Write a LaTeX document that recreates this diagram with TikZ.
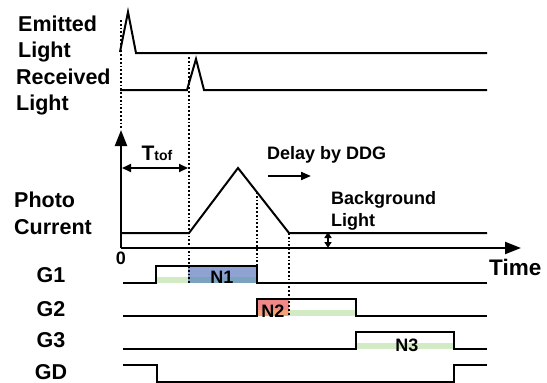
\documentclass[tikz,border=0pt]{standalone}
\usepackage{fontspec}
\setmainfont{Liberation Sans}
\usetikzlibrary{arrows.meta}
\definecolor{gfill}{HTML}{D3EBC5}
\definecolor{bfill}{HTML}{8FA3D3}
\definecolor{bgfill}{HTML}{7BA3BE}
\definecolor{rfill}{HTML}{F08888}
\definecolor{rofill}{HTML}{F4A27A}
\tikzset{
  sig/.style={line width=2pt, line join=miter},
  dots/.style={line width=1.8pt, dash pattern=on 1.8pt off 2pt},
  lbl/.style={font=\fontsize{21.5}{26}\selectfont\bfseries, align=left, inner sep=0pt},
  sml/.style={font=\fontsize{18}{22}\selectfont\bfseries, align=left, inner sep=0pt},
  axisarrow/.style={line width=2.2pt, -{Triangle[length=16pt,width=12pt]}},
  dimarrow/.style={line width=2pt, {Triangle[length=9pt,width=8pt]}-{Triangle[length=9pt,width=8pt]}},
  smallarrow/.style={line width=1.8pt, {Triangle[length=6pt,width=7pt]}-{Triangle[length=6pt,width=7pt]}},
}
\begin{document}
\begin{tikzpicture}[x=1pt,y=-1pt]
\useasboundingbox (0,0) rectangle (547,383);
% colour fills
\fill[gfill] (157,277) rectangle (188,283);
\fill[bfill] (188,266) rectangle (257,277);
\fill[bgfill] (188,277) rectangle (257,283);
\fill[rfill] (257,299) rectangle (289,310);
\fill[rofill] (257,310) rectangle (289,316);
\fill[gfill] (289,310) rectangle (356,316);
\fill[gfill] (356,343) rectangle (454,349);
% dotted guide lines
\draw[dots] (121,20) -- (121,130);
\draw[dots] (189,57) -- (189,283);
\draw[dots] (257,192) -- (257,266);
\draw[dots] (289,233) -- (289,316);
% labels
\node[lbl, anchor=west] (em) at (18,39) {Emitted\\Light};
\node[lbl, anchor=west] (rc) at (16,92) {Received\\Light};
\node[lbl, anchor=west, font=\fontsize{21.5}{27}\selectfont\bfseries] (pc) at (14,213) {Photo\\Current};
\node[lbl] (g1) at (51,275) {G1};
\node[lbl] (g2) at (51,309) {G2};
\node[lbl] (g3) at (51,340) {G3};
\node[lbl] (gd) at (51,372) {GD};
\node[sml] (zero) at (121,258) {0};
\node[sml, anchor=west] (ddg) at (267,155) {Delay by DDG};
\node[sml, anchor=west] (bg) at (331,211) {Background\\Light};
\node[lbl, anchor=west, font=\fontsize{22.5}{26}\selectfont\bfseries] (time) at (489,267) {Time};
\node[inner sep=0pt, font=\bfseries] (ttof) at (157,153) {\fontsize{21}{22}\selectfont T\fontsize{14}{15}\selectfont tof};
\node[sml] (n1) at (222,277) {N1};
\node[sml] (n2) at (273,311) {N2};
\node[sml] (n3) at (407,345) {N3};
% emitted light
\draw[sig] (120,52) -- (128,12) -- (136,53) -- (487,53);
% received light
\draw[sig] (120,90) -- (187,90) -- (196,59) -- (204,90) -- (487,90);
% axes
\coordinate (o) at (121,248);
\coordinate (ytop) at (121,130);
\coordinate (xend) at (521,248);
\draw[axisarrow] (o) -- (ytop);
\draw[axisarrow] (o) -- (xend);
% photo current
\draw[sig] (121,233) -- (189,233) -- (238,168) -- (289,233) -- (487,233);
% ttof arrow
\coordinate (ta) at (122,168);
\coordinate (tb) at (188,168);
\draw[dimarrow] (ta) -- (tb);
% delay arrow
\coordinate (da) at (268,176);
\coordinate (db) at (311,176);
\draw[line width=2pt, -{Triangle[length=10pt,width=8pt]}] (da) -- (db);
% background arrow
\coordinate (ba) at (328,232);
\coordinate (bb) at (328,248);
\draw[smallarrow] (ba) -- (bb);
% gate signals
\draw[sig] (123,283) -- (156,283) -- (156,266) -- (257,266) -- (257,283) -- (487,283);
\draw[sig] (123,316) -- (257,316) -- (257,299) -- (356,299) -- (356,316) -- (487,316);
\draw[sig] (123,349) -- (356,349) -- (356,332) -- (454,332) -- (454,349) -- (487,349);
\draw[sig] (123,365) -- (157,365) -- (157,382) -- (454,382) -- (454,365) -- (487,365);
\end{tikzpicture}
\end{document}
